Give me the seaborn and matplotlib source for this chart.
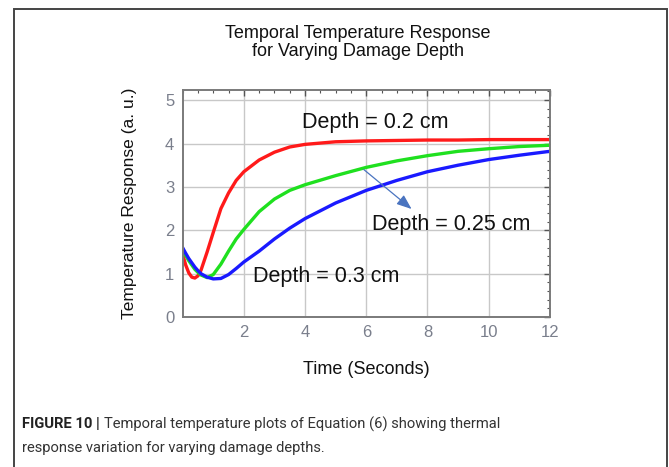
import matplotlib
matplotlib.use("Agg")
import matplotlib.pyplot as plt
import seaborn as sns
import pandas as pd
from matplotlib.patches import Rectangle

time_s = [0, 0.1, 0.2, 0.3, 0.4, 0.5, 0.6, 0.8, 1.0, 1.25, 1.5, 1.75, 2.0, 2.5, 3.0, 3.5, 4.0, 5.0, 6.0, 7.0, 8.0, 9.0, 10.0, 11.0, 12.0]
depth_02 = [1.45, 1.2, 1.02, 0.92, 0.9, 0.95, 1.08, 1.5, 1.95, 2.5, 2.86, 3.15, 3.35, 3.62, 3.8, 3.92, 3.98, 4.04, 4.06, 4.07, 4.08, 4.08, 4.09, 4.09, 4.09]
depth_025 = [1.55, 1.42, 1.3, 1.2, 1.1, 1.03, 0.97, 0.91, 0.98, 1.22, 1.52, 1.8, 2.02, 2.43, 2.72, 2.92, 3.05, 3.26, 3.45, 3.6, 3.72, 3.82, 3.88, 3.93, 3.96]
depth_03 = [1.6, 1.47, 1.35, 1.25, 1.15, 1.07, 1.0, 0.92, 0.88, 0.89, 0.98, 1.12, 1.27, 1.52, 1.8, 2.05, 2.27, 2.63, 2.92, 3.15, 3.35, 3.5, 3.63, 3.73, 3.82]
series_names = ["Depth = 0.2 cm", "Depth = 0.25 cm", "Depth = 0.3 cm"]
series_colors = ["#ff1a1a", "#1fe01f", "#1a1aff"]
x_ticks = [2, 4, 6, 8, 10, 12]
y_ticks = [0, 1, 2, 3, 4, 5]

rows = []
for name, vals in zip(series_names, [depth_02, depth_025, depth_03]):
    for t, v in zip(time_s, vals):
        rows.append({"Time": t, "Response": v, "Depth": name})
df = pd.DataFrame(rows)

sns.set_style("white")
plt.rcParams["font.family"] = ["Liberation Sans", "DejaVu Sans"]

fig = plt.figure(figsize=(6.69, 4.67), dpi=100)
ax = fig.add_axes([0.273, 0.321, 0.549, 0.486])
sns.lineplot(data=df, x="Time", y="Response", hue="Depth", palette=series_colors,
             linewidth=2.4, ax=ax, legend=False, sort=False)

ax.set_xlim(0, 12)
ax.set_ylim(0, 5.23)
ax.set_xticks(x_ticks)
ax.set_yticks(y_ticks)
ax.set_xticks([i * 0.5 for i in range(25)], minor=True)
ax.set_yticks([i * 0.2 for i in range(27)], minor=True)
ax.grid(True, which="major", color="#c8c8c8", linewidth=1.0)
ax.set_axisbelow(True)
for sp in ax.spines.values():
    sp.set_color("#7a7a7a")
    sp.set_linewidth(1.4)
ax.tick_params(which="both", direction="in", top=True, right=True, color="#555555")
ax.tick_params(which="major", length=4, width=1, labelsize=12, labelcolor="#7a7f8c", pad=6)
ax.tick_params(which="minor", length=2.5, width=0.8)

ax.set_xlabel("Time (Seconds)", fontsize=13, color="#111111", labelpad=15)
ax.set_ylabel("Temperature Response (a. u.)", fontsize=12.5, color="#111111", labelpad=20)

fig.text(358 / 669, 1 - 42.5 / 467, "Temporal Temperature Response\nfor Varying Damage Depth",
         fontsize=13, color="#111111", ha="center", va="center", linespacing=1.1)

ax.text(3.9, 4.49, series_names[0], fontsize=15.5, va="center", ha="left", color="#111111")
ax.text(6.2, 2.14, series_names[1], fontsize=15.5, va="center", ha="left", color="#111111")
ax.text(2.3, 0.94, series_names[2], fontsize=15.5, va="center", ha="left", color="#111111")
ax.annotate("", xy=(7.55, 2.45), xytext=(5.85, 3.44),
            arrowprops=dict(arrowstyle="-|>,head_length=0.9,head_width=0.35",
                            color="#4a74c0", lw=0.9))

# outer frame
fig.patches.append(Rectangle((14 / 669, -0.05), (667 - 14) / 669, 1.05 - 9 / 467,
                             transform=fig.transFigure, fill=False,
                             edgecolor="#444444", linewidth=1.4))

cap_font = ["Roboto", "DejaVu Sans"]
cap_size = 10.6
t1 = fig.text(22 / 669, 1 - 424 / 467, "FIGURE 10 |", fontsize=cap_size, fontweight="bold",
              color="#222222", va="center", ha="left", family=cap_font)
fig.canvas.draw()
bb = t1.get_window_extent()
fig.text((bb.x1 + 4) / 669, 1 - 424 / 467,
         "Temporal temperature plots of Equation (6) showing thermal",
         fontsize=cap_size, color="#333333", va="center", ha="left", family=cap_font)
fig.text(22 / 669, 1 - 448 / 467, "response variation for varying damage depths.",
         fontsize=cap_size, color="#333333", va="center", ha="left", family=cap_font)

fig.savefig("out.png", dpi=100)
